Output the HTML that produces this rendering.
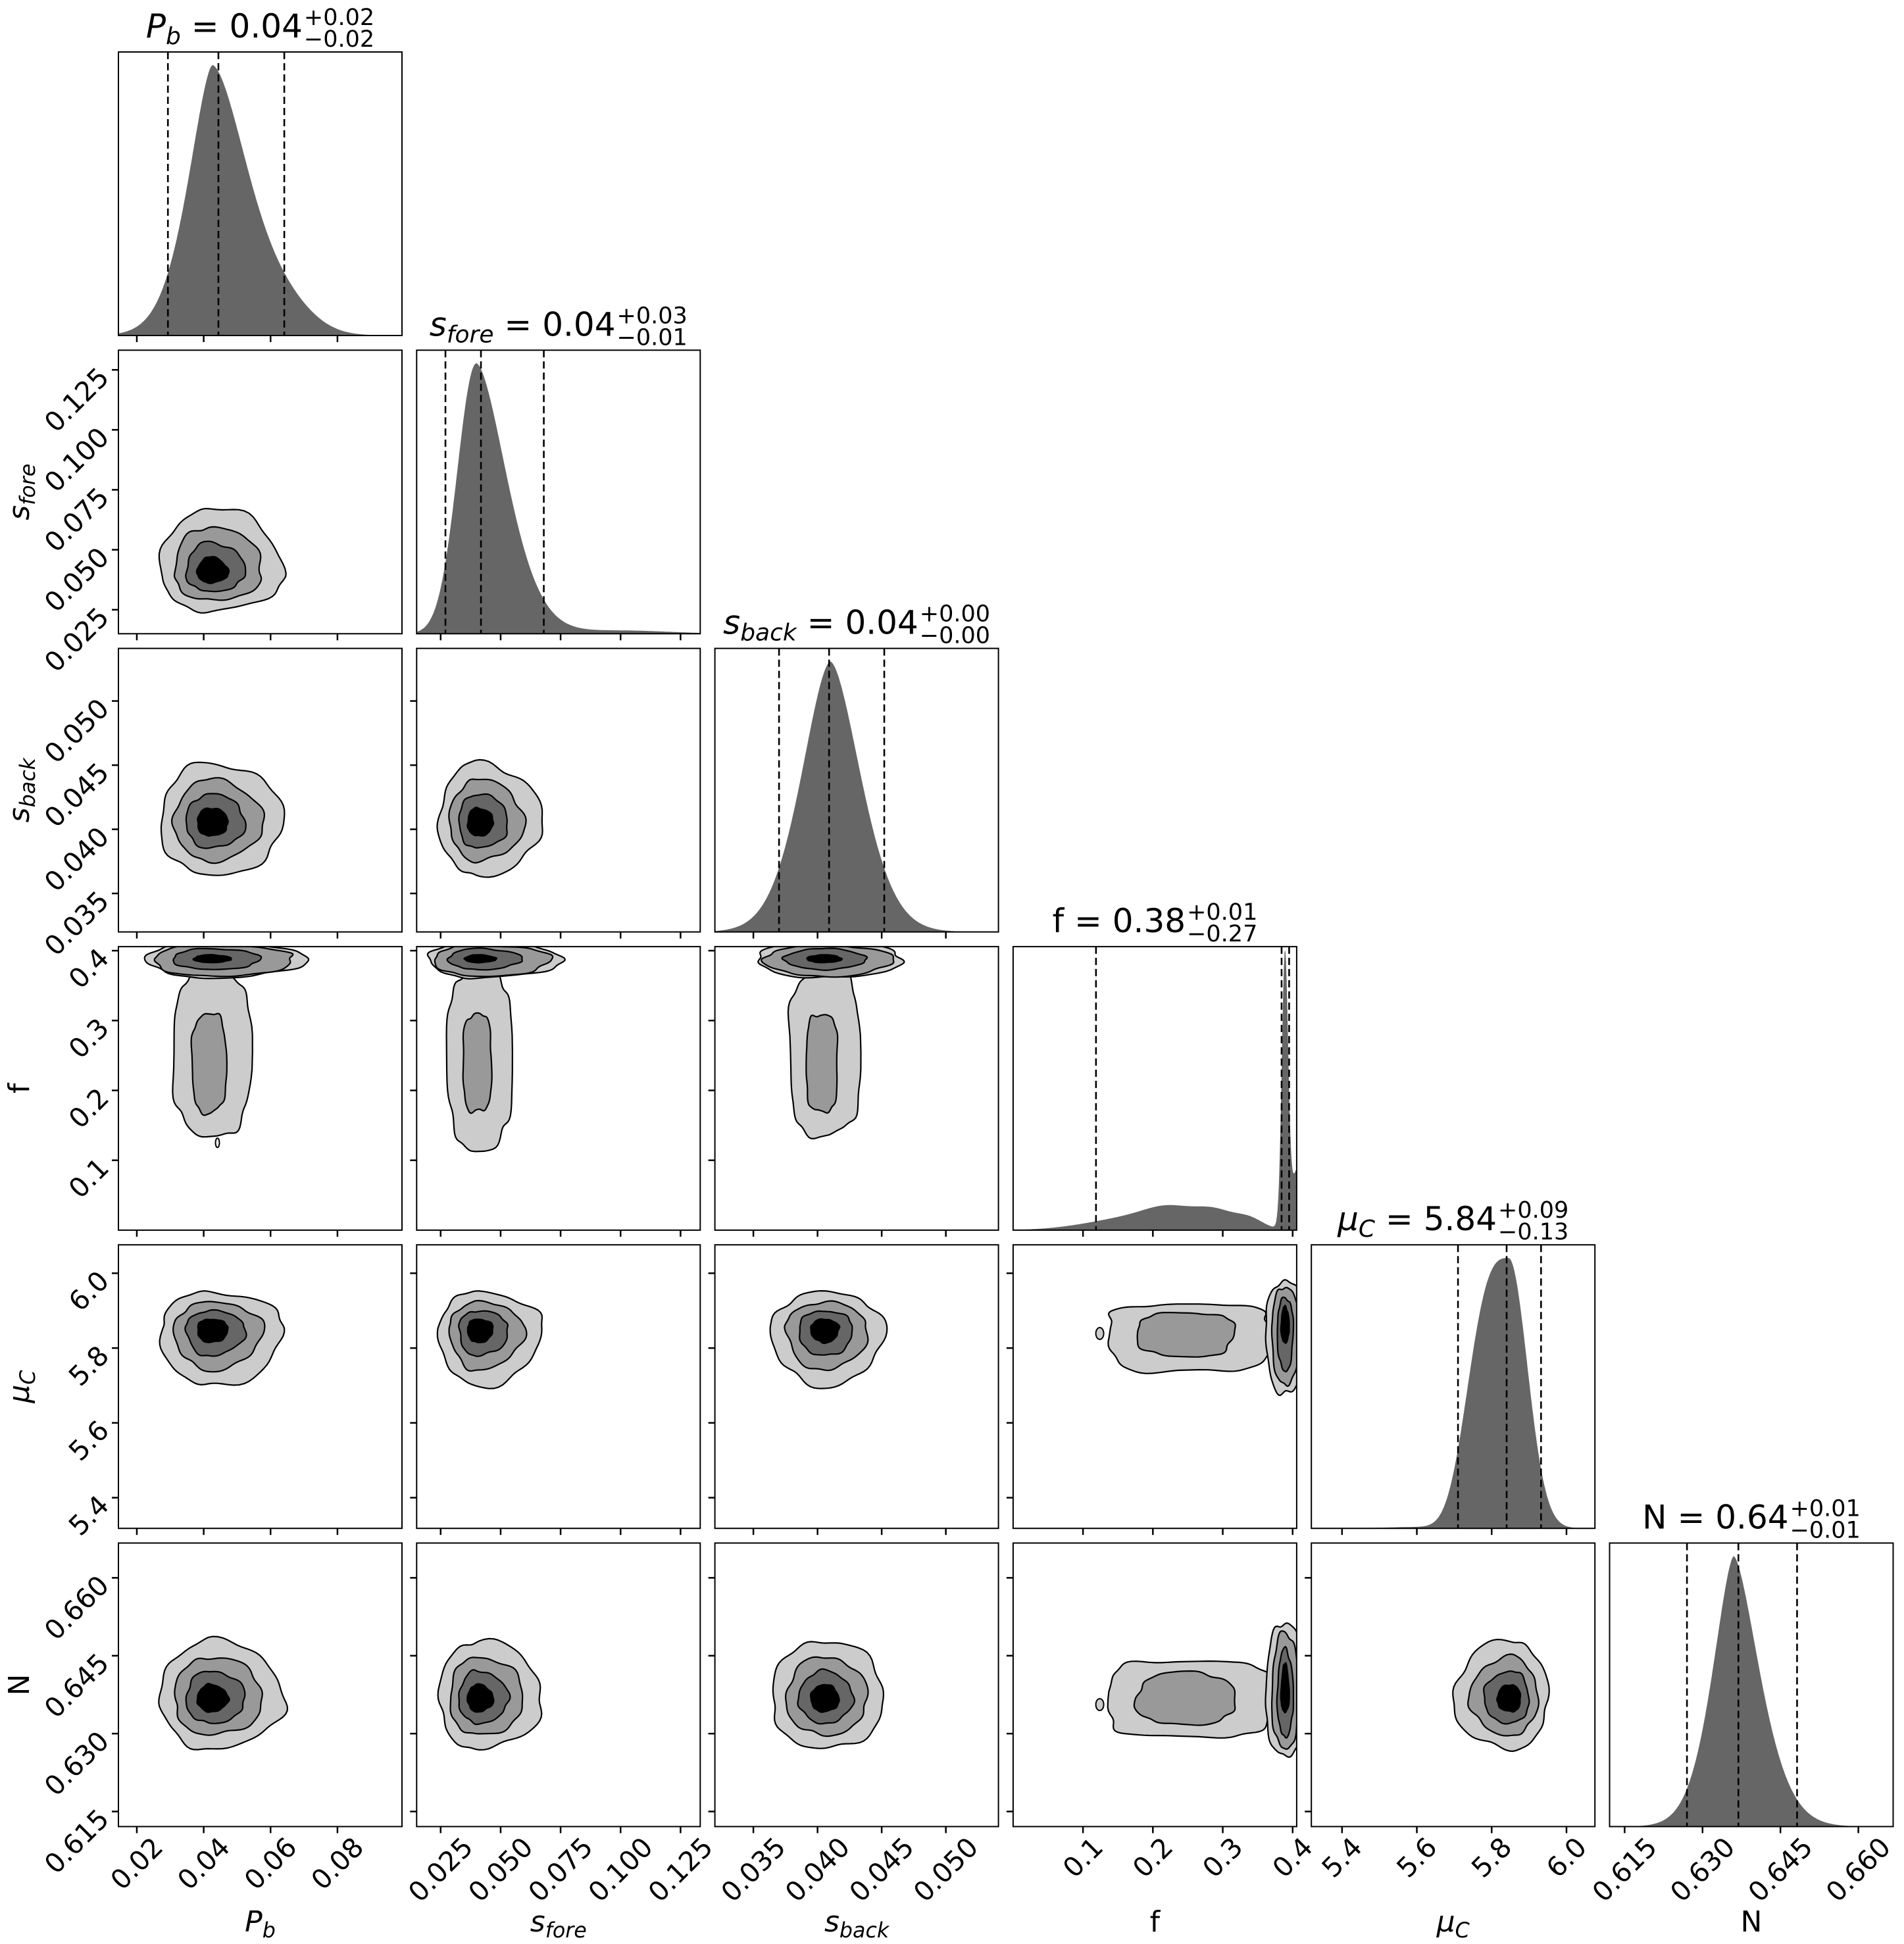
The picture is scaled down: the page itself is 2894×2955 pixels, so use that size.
<!DOCTYPE html>
<html><head><meta charset="utf-8"><style>body{margin:0;background:#fff}svg{display:block}</style></head><body>
<svg id="s" xmlns="http://www.w3.org/2000/svg" width="2894" height="2955" font-family="DejaVu Sans, Liberation Sans, sans-serif"><rect width="2894" height="2955" fill="#fff"/></svg>
<script>
(function(){
const NS="http://www.w3.org/2000/svg";
const svg=document.getElementById('s');
function el(tag,a,p){const e=document.createElementNS(NS,tag);for(const k in a)e.setAttribute(k,a[k]);(p||svg).appendChild(e);return e;}
const L0=180,T0=79,PITCH=453.3,S=431,TF=41;
const pL=c=>L0+PITCH*c, pT=r=>T0+PITCH*r;
const P=[
{lo:0.0145,hi:0.0993,ticks:[0.02,0.04,0.06,0.08],lab:['0.02','0.04','0.06','0.08'],core:0.0418,L:0.0147,H:0.0221,
 h:{m:0.0426,sl:0.0068,sr:0.0105,pl:1.6,pr:1.7,ex:[[0.066,0.008,0.05]]},q:[0.0293,0.0444,0.0641],
 title:[{t:'P',i:1},{t:'b',i:1,sub:1},{t:'\u00a0= 0.04'}],sup:'+0.02',sb:'\u22120.02',lab2:[{t:'P',i:1},{t:'b',i:1,sub:1}]},
{lo:0.0150,hi:0.1332,ticks:[0.025,0.05,0.075,0.1,0.125],lab:['0.025','0.050','0.075','0.100','0.125'],core:0.0402,L:0.0158,H:0.0271,
 h:{m:0.0399,sl:0.0079,sr:0.0121,pl:2,pr:1.7,ex:[[0.1,0.02,0.012]]},q:[0.027,0.0418,0.068],
 title:[{t:'s',i:1},{t:'fore',i:1,sub:1},{t:'\u00a0= 0.04'}],sup:'+0.03',sb:'\u22120.01',lab2:[{t:'s',i:1},{t:'fore',i:1,sub:1}]},
{lo:0.0320,hi:0.0541,ticks:[0.035,0.04,0.045,0.05],lab:['0.035','0.040','0.045','0.050'],core:0.0405,L:0.0041,H:0.0047,
 h:{m:0.041,sl:0.00215,sr:0.00225,pl:1.7,pr:1.7,ex:[]},q:[0.0370,0.0409,0.0452],
 title:[{t:'s',i:1},{t:'back',i:1,sub:1},{t:'\u00a0= 0.04'}],sup:'+0.00',sb:'\u22120.00',lab2:[{t:'s',i:1},{t:'back',i:1,sub:1}]},
{lo:0.0,hi:0.4058,ticks:[0.1,0.2,0.3,0.4],lab:['0.1','0.2','0.3','0.4'],q:[0.1186,0.3842,0.395],
 title:[{t:'f = 0.38'}],sup:'+0.01',sb:'\u22120.27',lab2:[{t:'f'}]},
{lo:5.318,hi:6.076,ticks:[5.4,5.6,5.8,6.0],lab:['5.4','5.6','5.8','6.0'],core:5.853,L:0.155,H:0.097,
 h:{m:5.845,sl:0.1,sr:0.05,pl:3,pr:2,ex:[[5.6,0.08,0.005]]},q:[5.710,5.840,5.932],
 title:[{t:'\u03bc',i:1},{t:'C',i:1,sub:1},{t:'\u00a0= 5.84'}],sup:'+0.09',sb:'\u22120.13',lab2:[{t:'\u03bc',i:1},{t:'C',i:1,sub:1}]},
{lo:0.6121,hi:0.6667,ticks:[0.615,0.63,0.645,0.66],lab:['0.615','0.630','0.645','0.660'],core:0.6366,L:0.0096,H:0.0114,
 h:{m:0.636,sl:0.00383,sr:0.0047,pl:1.6,pr:1.6,ex:[]},q:[0.627,0.6369,0.6482],
 title:[{t:'N = 0.64'}],sup:'+0.01',sb:'\u22120.01',lab2:[{t:'N'}]}
];
const mx=(i,v,c)=>pL(c)+(v-P[i].lo)/(P[i].hi-P[i].lo)*S;
const my=(i,v,r)=>pT(r)+S-(v-P[i].lo)/(P[i].hi-P[i].lo)*S;
const sc=i=>S/(P[i].hi-P[i].lo);
const g=(v,m,s)=>Math.exp(-0.5*((v-m)/s)**2);
function hv(i,v){
  if(i===3){return 8*g(v,0.12,0.05)+12*g(v,0.17,0.04)+30*g(v,0.225,0.035)+28*g(v,0.29,0.03)+14*g(v,0.34,0.02)+405*g(v,0.389,0.0045)+100*g(v,0.41,0.012);}
  const h=P[i].h;const d=v-h.m;let y=d<0?Math.exp(-0.5*Math.pow(-d/h.sl,h.pl)):Math.exp(-0.5*Math.pow(d/h.sr,h.pr));
  for(const e of h.ex)y+=e[2]*g(v,e[0],e[1]);return y;
}
let cid=0;
function clip(c,r){const id='c'+(cid++);const cp=el('clipPath',{id:id});el('rect',{x:pL(c),y:pT(r),width:S,height:S},cp);return el('g',{'clip-path':'url(#'+id+')'});}
function blob(cx,cy,xl,xh,yl,yh,seed,pw,parent,fill){
  pw=pw||1;let d='';const N=90;
  for(let k=0;k<N;k++){const t=2*Math.PI*k/N;const c=Math.cos(t),s=Math.sin(t);
    const r=1+0.035*Math.sin(4*t+seed)+0.025*Math.sin(7*t+seed*2.3)+0.015*Math.sin(11*t+seed*0.7);
    const x=cx+(c>=0?xh:xl)*Math.sign(c)*Math.pow(Math.abs(c),pw)*r;
    const y=cy-(s>=0?yh:yl)*Math.sign(s)*Math.pow(Math.abs(s),pw)*r;
    d+=(k?'L':'M')+x.toFixed(1)+','+y.toFixed(1);}
  el('path',{d:d+'Z',fill:fill,stroke:'#000','stroke-width':2.2,'stroke-linejoin':'round'},parent);
}
const COL=['#cccccc','#999999','#666666','#000000'];
for(let r=0;r<6;r++)for(let c=0;c<=r;c++){
  const x0=pL(c),y0=pT(r);
  const G=clip(c,r);
  if(r===c){
    const pts=[];let mxh=0;
    for(let k=0;k<=400;k++){const v=P[c].lo+(P[c].hi-P[c].lo)*k/400;const h=hv(c,v);pts.push([v,h]);if(h>mxh)mxh=h;}
    const Hh=c===3?425:411;
    let d='M'+x0+','+(y0+S);
    for(const [v,h] of pts)d+='L'+mx(c,v,c).toFixed(1)+','+(y0+S-Hh*h/mxh).toFixed(1);
    d+='L'+(x0+S)+','+(y0+S)+'Z';
    el('path',{d:d,fill:'#666666'},G);
    for(const q of P[c].q){const x=mx(c,q,c);el('line',{x1:x,y1:y0,x2:x,y2:y0+S,stroke:'#000','stroke-width':2.6,'stroke-dasharray':'11 6'},G);}
  } else if(r===3){
    const i=c,p=P[i];const cx=mx(i,p.core,c);const s=sc(i);
    const wv=(p.L+p.H)/2;const tc=mx(i,p.core+0.1*(p.H-p.L),c);
    const yt=my(3,0.255,r);const fs=sc(3);
    const bot=c===1?0.117:0.137;
    blob(tc,yt,0.62*wv*s,0.62*wv*s,(0.255-bot)*fs,(0.37-0.255)*fs,c+1,0.6,G,COL[0]);
    const lv=[[1.27,1.31,0.027,0.025],[1.13,1.15,0.025,0.02],[0.75,0.69,0.015,0.015],[0.32,0.29,0.005,0.006]];
    const yc=my(3,0.388,r);
    blob(cx,yc,lv[0][0]*p.L*s,lv[0][1]*p.H*s,lv[0][2]*fs,lv[0][3]*fs,c+2,1,G,COL[0]);
    const ym=my(3,0.24,r);
    blob(tc-0.05*wv*s,ym,0.28*wv*s,0.28*wv*s,(0.24-0.168)*fs,(0.31-0.24)*fs,c+3,0.7,G,COL[1]);
    for(let k=1;k<4;k++)blob(cx,yc,lv[k][0]*p.L*s,lv[k][1]*p.H*s,lv[k][2]*fs,lv[k][3]*fs,c+4+k,1,G,COL[k]);
    if(c===0)el('ellipse',{cx:tc+8,cy:my(3,0.125,r),rx:3,ry:7,fill:'none',stroke:'#000','stroke-width':2},G);
  } else if(c===3){
    const j=r,p=P[j];const s=sc(j),fs=sc(3);const cy=my(j,p.core,r);
    blob(mx(3,0.25,c),cy,(0.25-0.135)*fs,(0.37-0.25)*fs,0.77*p.L*s,0.66*p.H*s,r,0.6,G,COL[0]);
    el('ellipse',{cx:mx(3,0.124,c),cy:cy+8,rx:6,ry:9,fill:COL[0],stroke:'#000','stroke-width':2},G);
    blob(mx(3,0.247,c),cy+4,0.07*fs,0.07*fs,0.45*p.L*s,0.5*p.H*s,r+2,0.75,G,COL[1]);
    const lv=[[0.028,1.16,1.32],[0.019,1.0,1.15],[0.011,0.75,0.85],[0.0055,0.25,0.6]];
    for(let k=0;k<4;k++)blob(mx(3,0.389,c),cy,lv[k][0]*fs,lv[k][0]*fs*1.1,lv[k][1]*p.L*s,lv[k][2]*p.H*s,r+k,1,G,COL[k]);
  } else {
    const px=P[c],py=P[r];const sx=sc(c),sy=sc(r);
    const cx=mx(c,px.core,c),cy=my(r,py.core,r);
    const fr=[1,0.72,0.48,0.25];
    for(let k=0;k<4;k++)blob(cx,cy,fr[k]*px.L*sx,fr[k]*px.H*sx,fr[k]*py.L*sy,fr[k]*py.H*sy,r*3+c+k*1.7,1,G,COL[k]);
  }
  el('rect',{x:x0,y:y0,width:S,height:S,fill:'none',stroke:'#000','stroke-width':2});
  P[c].ticks.forEach((t,k)=>{const x=mx(c,t,c);el('line',{x1:x,y1:y0+S,x2:x,y2:y0+S+10,stroke:'#000','stroke-width':2.5});
    if(r===5){const lab=P[c].lab[k];const w=lab.length*0.636*TF-(lab.split('.').length-1)*0.318*TF;
      const cy=y0+S+24+0.354*w;
      el('text',{x:x,y:cy,'font-size':TF,'text-anchor':'middle','dominant-baseline':'central',transform:'rotate(-45 '+x+' '+cy+')'}).textContent=lab;}
  });
  if(r>c){P[r].ticks.forEach((t,k)=>{const y=my(r,t,r);el('line',{x1:x0-10,y1:y,x2:x0,y2:y,stroke:'#000','stroke-width':2.5});
    if(c===0){const ax=x0-12,ay=y+14;el('text',{x:ax,y:ay,'font-size':TF,'text-anchor':'end',transform:'rotate(-45 '+ax+' '+ay+')'}).textContent=P[r].lab[k];}
  });}
}
function parts(list,size,parent){
  const gg=el('g',{},parent);let x=0;
  for(const p of list){const fsz=p.sub?size*0.72:size;
    const t=el('text',{x:x,y:p.sub?size*0.2:0,'font-size':fsz,'font-style':p.i?'oblique':'normal'},gg);t.textContent=p.t;
    let w=0;try{w=t.getComputedTextLength();}catch(e){w=p.t.length*fsz*0.6;}
    if(!w)w=p.t.length*fsz*0.6;
    x+=w;}
  return [gg,x];
}
P.forEach((p,i)=>{
  const g0=el('g',{});const w=parts(p.title,50,g0)[1];
  const t1=el('text',{x:w+2,y:-19,'font-size':35},g0);t1.textContent=p.sup;
  const t2=el('text',{x:w+2,y:14,'font-size':35},g0);t2.textContent=p.sb;
  let sw=Math.max(t1.getComputedTextLength()||0,t2.getComputedTextLength()||0)||100;
  const tw=w+2+sw;
  g0.setAttribute('transform','translate('+(pL(i)+S/2-tw/2)+','+(pT(i)-22)+')');
  const g1=el('g',{});const w1=parts(p.lab2,44,g1)[1];
  g1.setAttribute('transform','translate('+(pL(i)+S/2-w1/2)+',2936)');
  if(i>0){const g2=el('g',{});const w2=parts(p.lab2,44,g2)[1];
    g2.setAttribute('transform','translate(44,'+(pT(i)+S/2+w2/2)+') rotate(-90)');}
});
})();
</script>
</body></html>
